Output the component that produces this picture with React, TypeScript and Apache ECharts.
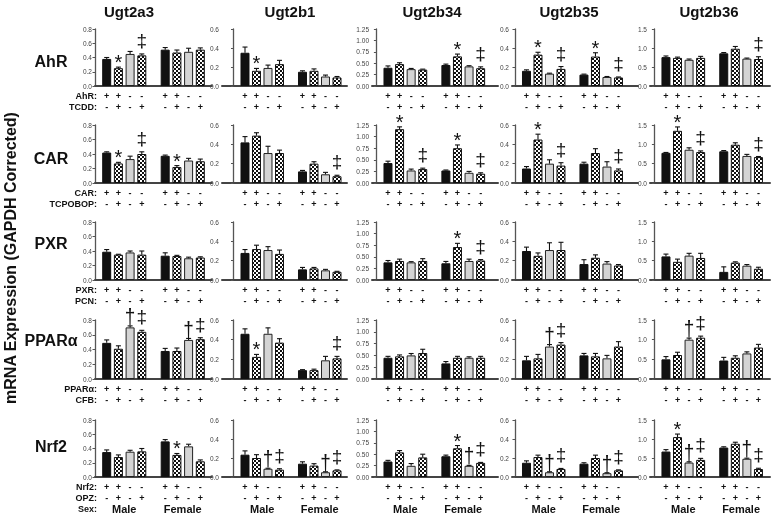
import React, { useEffect, useRef } from 'react';
import * as echarts from 'echarts';

// ---------- labels ----------
const genes = ['Ugt2a3', 'Ugt2b1', 'Ugt2b34', 'Ugt2b35', 'Ugt2b36'];
const receptors = ['AhR', 'CAR', 'PXR', 'PPARα', 'Nrf2'];
const ligands = ['TCDD', 'TCPOBOP', 'PCN', 'CFB', 'OPZ'];
const genotypeSigns = ['+', '+', '-', '-', '+', '+', '-', '-'];
const treatmentSigns = ['-', '+', '-', '+', '-', '+', '-', '+'];
const sexLabels = ['Male', 'Female'];
const barPositions = [1, 2, 3, 4, 6, 7, 8, 9];
const yAxisTitle = 'mRNA Expression (GAPDH Corrected)';

// y axis per gene column
const yMax = [0.8, 0.6, 1.25, 0.6, 1.5];
const yStep = [0.2, 0.2, 0.25, 0.2, 0.5];
const yDecimals = [1, 1, 2, 1, 1];

// ---------- data: [gene][bar] ----------
const ahrMeans = [
  [0.38, 0.25, 0.45, 0.43, 0.51, 0.47, 0.48, 0.51],
  [0.35, 0.16, 0.19, 0.23, 0.15, 0.16, 0.10, 0.09],
  [0.40, 0.48, 0.37, 0.36, 0.46, 0.65, 0.43, 0.39],
  [0.16, 0.33, 0.13, 0.18, 0.12, 0.31, 0.095, 0.09],
  [0.76, 0.74, 0.69, 0.74, 0.86, 0.98, 0.72, 0.71],
];
const ahrErrors = [
  [0.02, 0.015, 0.035, 0.02, 0.03, 0.035, 0.05, 0.025],
  [0.06, 0.025, 0.03, 0.04, 0.01, 0.02, 0.015, 0.01],
  [0.04, 0.03, 0.015, 0.01, 0.02, 0.05, 0.015, 0.03],
  [0.01, 0.025, 0.005, 0.025, 0.005, 0.04, 0.005, 0.005],
  [0.03, 0.02, 0.02, 0.04, 0.02, 0.06, 0.015, 0.06],
];
const ahrMarks = [
  ['', '*', '', '‡', '', '', '', ''],
  ['', '*', '', '', '', '', '', ''],
  ['', '', '', '', '', '*', '', '‡'],
  ['', '*', '', '‡', '', '*', '', '‡'],
  ['', '', '', '', '', '', '', '‡'],
];

const carMeans = [
  [0.42, 0.27, 0.33, 0.40, 0.375, 0.22, 0.31, 0.30],
  [0.42, 0.49, 0.31, 0.31, 0.12, 0.20, 0.09, 0.07],
  [0.43, 1.16, 0.27, 0.30, 0.27, 0.75, 0.22, 0.20],
  [0.15, 0.45, 0.20, 0.18, 0.20, 0.31, 0.17, 0.13],
  [0.78, 1.35, 0.86, 0.80, 0.82, 0.99, 0.70, 0.67],
];
const carErrors = [
  [0.01, 0.015, 0.04, 0.03, 0.01, 0.02, 0.03, 0.03],
  [0.06, 0.03, 0.07, 0.03, 0.01, 0.02, 0.02, 0.01],
  [0.04, 0.05, 0.03, 0.02, 0.01, 0.07, 0.03, 0.02],
  [0.02, 0.055, 0.04, 0.03, 0.015, 0.045, 0.05, 0.015],
  [0.01, 0.1, 0.05, 0.03, 0.02, 0.05, 0.04, 0.015],
];
const carMarks = [
  ['', '*', '', '‡', '', '*', '', ''],
  ['', '', '', '', '', '', '', '‡'],
  ['', '*', '', '‡', '', '*', '', '‡'],
  ['', '*', '', '‡', '', '', '', '‡'],
  ['', '*', '', '‡', '', '', '', '‡'],
];

const pxrMeans = [
  [0.39, 0.35, 0.38, 0.35, 0.335, 0.33, 0.30, 0.31],
  [0.28, 0.32, 0.31, 0.27, 0.11, 0.12, 0.10, 0.085],
  [0.38, 0.41, 0.38, 0.41, 0.36, 0.71, 0.41, 0.42],
  [0.30, 0.25, 0.31, 0.31, 0.165, 0.23, 0.17, 0.15],
  [0.61, 0.47, 0.63, 0.57, 0.21, 0.45, 0.37, 0.29],
];
const pxrErrors = [
  [0.03, 0.005, 0.02, 0.05, 0.04, 0.01, 0.015, 0.01],
  [0.035, 0.04, 0.035, 0.04, 0.02, 0.01, 0.01, 0.005],
  [0.04, 0.04, 0.015, 0.05, 0.04, 0.08, 0.04, 0.02],
  [0.04, 0.03, 0.075, 0.08, 0.045, 0.03, 0.02, 0.01],
  [0.06, 0.07, 0.06, 0.12, 0.13, 0.02, 0.03, 0.04],
];
const pxrMarks = [
  ['', '', '', '', '', '', '', ''],
  ['', '', '', '', '', '', '', ''],
  ['', '', '', '', '', '*', '', '‡'],
  ['', '', '', '', '', '', '', ''],
  ['', '', '', '', '', '', '', ''],
];

const pparMeans = [
  [0.49, 0.41, 0.70, 0.64, 0.38, 0.38, 0.53, 0.54],
  [0.46, 0.225, 0.46, 0.37, 0.09, 0.09, 0.19, 0.21],
  [0.45, 0.48, 0.50, 0.55, 0.33, 0.45, 0.45, 0.45],
  [0.19, 0.21, 0.33, 0.35, 0.24, 0.23, 0.21, 0.33],
  [0.50, 0.61, 1.00, 1.05, 0.47, 0.54, 0.65, 0.80],
];
const pparErrors = [
  [0.04, 0.04, 0.02, 0.02, 0.035, 0.04, 0.02, 0.02],
  [0.05, 0.025, 0.06, 0.04, 0.005, 0.01, 0.04, 0.02],
  [0.03, 0.03, 0.04, 0.08, 0.04, 0.03, 0.02, 0.03],
  [0.04, 0.04, 0.02, 0.02, 0.02, 0.03, 0.03, 0.05],
  [0.07, 0.07, 0.04, 0.04, 0.08, 0.05, 0.04, 0.08],
];
const pparMarks = [
  ['', '', '†', '‡', '', '', '†', '‡'],
  ['', '*', '', '', '', '', '', '‡'],
  ['', '', '', '', '', '', '', ''],
  ['', '', '†', '‡', '', '', '', ''],
  ['', '', '†', '‡', '', '', '', ''],
];

const nrf2Means = [
  [0.35, 0.28, 0.355, 0.36, 0.50, 0.31, 0.43, 0.22],
  [0.235, 0.20, 0.087, 0.077, 0.14, 0.12, 0.05, 0.07],
  [0.34, 0.54, 0.245, 0.43, 0.455, 0.63, 0.245, 0.31],
  [0.15, 0.21, 0.05, 0.085, 0.14, 0.20, 0.04, 0.07],
  [0.67, 1.05, 0.38, 0.45, 0.775, 0.875, 0.48, 0.21],
];
const nrf2Errors = [
  [0.03, 0.03, 0.02, 0.04, 0.025, 0.02, 0.03, 0.02],
  [0.04, 0.035, 0.005, 0.01, 0.02, 0.02, 0.005, 0.005],
  [0.025, 0.04, 0.05, 0.07, 0.025, 0.06, 0.01, 0.01],
  [0.02, 0.02, 0.005, 0.005, 0.01, 0.03, 0.005, 0.005],
  [0.05, 0.08, 0.02, 0.04, 0.02, 0.04, 0.015, 0.02],
];
const nrf2Marks = [
  ['', '', '', '', '', '*', '', ''],
  ['', '', '†', '‡', '', '', '†', '‡'],
  ['', '', '', '', '', '*', '†', '‡'],
  ['', '', '†', '‡', '', '', '†', '‡'],
  ['', '*', '†', '‡', '', '', '†', '‡'],
];

const allMeans = [ahrMeans, carMeans, pxrMeans, pparMeans, nrf2Means];
const allErrors = [ahrErrors, carErrors, pxrErrors, pparErrors, nrf2Errors];
const allMarks = [ahrMarks, carMarks, pxrMarks, pparMarks, nrf2Marks];

// ---------- layout ----------
const colAxisX = [95, 222, 372, 512, 650];
const colEndX = [212, 347, 498, 638, 770];
const colXMin = [0, -1, -0.38, -0.26, -0.38];
const colXMax = [10, 9.87, 10.5, 10.7, 10];
const colTitleX = [129, 290, 432, 569, 709];
const rowTop = [29, 125, 222, 320, 420];
const rowBottom = [86, 183, 280, 379, 477];
const rowTitleY = [61, 158, 243, 340, 446];
const FONT = 'Liberation Sans, Arial, sans-serif';
const INK = '#111111';

function makeChecker(): HTMLCanvasElement {
  const c = document.createElement('canvas');
  c.width = 4;
  c.height = 4;
  const ctx = c.getContext('2d')!;
  ctx.fillStyle = '#111';
  ctx.fillRect(0, 0, 4, 4);
  ctx.fillStyle = '#fff';
  ctx.fillRect(0, 0, 2, 2);
  ctx.fillRect(2, 2, 2, 2);
  return c;
}

function buildOption(checker: HTMLCanvasElement) {
  const grid: any[] = [];
  const xAxis: any[] = [];
  const yAxis: any[] = [];
  const series: any[] = [];
  const barStyle = (i: number) => {
    const k = i % 4;
    if (k === 0) return { color: INK, borderColor: INK, borderWidth: 1 };
    if (k === 2) return { color: '#d4d4d4', borderColor: '#222', borderWidth: 1 };
    return { color: { image: checker, repeat: 'repeat' }, borderColor: INK, borderWidth: 1 };
  };

  for (let r = 0; r < 5; r++) {
    for (let c = 0; c < 5; c++) {
      const k = r * 5 + c;
      const means = allMeans[r][c];
      const errs = allErrors[r][c];
      const marks = allMarks[r][c];
      const lastRow = r === 4;
      grid.push({
        left: colAxisX[c],
        top: rowTop[r],
        width: colEndX[c] - colAxisX[c],
        height: rowBottom[r] - rowTop[r],
        containLabel: false,
      });
      xAxis.push({
        type: 'value',
        gridIndex: k,
        min: colXMin[c],
        max: colXMax[c],
        axisLine: { show: true, onZero: false, lineStyle: { color: '#444', width: 2 } },
        axisTick: { show: false },
        axisLabel: { show: false },
        splitLine: { show: false },
      });
      yAxis.push({
        type: 'value',
        gridIndex: k,
        min: 0,
        max: yMax[c],
        interval: yStep[c],
        axisLine: { show: true, lineStyle: { color: '#555', width: 1.3 } },
        axisTick: { show: true, length: 2.5, lineStyle: { color: '#555', width: 1 } },
        axisLabel: {
          fontSize: 6.5,
          color: '#444',
          fontFamily: FONT,
          margin: 3,
          formatter: (v: number) => v.toFixed(yDecimals[c]),
        },
        splitLine: { show: false },
      });
      series.push({
        type: 'bar',
        xAxisIndex: k,
        yAxisIndex: k,
        barWidth: 9,
        z: 2,
        data: means.map((v, i) => ({ value: [barPositions[i], v], itemStyle: barStyle(i) })),
      });
      series.push({
        type: 'custom',
        xAxisIndex: k,
        yAxisIndex: k,
        z: 3,
        clip: false,
        itemStyle: { color: INK },
        data: barPositions.map((x, i) => [x, means[i] + errs[i]]),
        renderItem: (params: any, api: any) => {
          const i = params.dataIndex;
          const x = barPositions[i];
          const base = api.coord([x, means[i]]);
          const top = api.coord([x, means[i] + errs[i]]);
          const zero = api.coord([x, 0]);
          const stroke = { stroke: INK, lineWidth: 1.1 };
          const txt = (text: string, px: number, py: number, font: string, va = 'middle') => ({
            text, x: px, y: py, align: 'center', verticalAlign: va, font, fill: INK,
          });
          const children: any[] = [
            { type: 'line', shape: { x1: base[0], y1: base[1], x2: top[0], y2: top[1] }, style: stroke },
            { type: 'line', shape: { x1: top[0] - 2.5, y1: top[1], x2: top[0] + 2.5, y2: top[1] }, style: stroke },
            { type: 'text', style: txt(genotypeSigns[i], zero[0], zero[1] + 10, `bold 9px ${FONT}`) },
            { type: 'text', style: txt(treatmentSigns[i], zero[0], zero[1] + 21, `bold 9px ${FONT}`) },
          ];
          if (lastRow && (i === 1 || i === 5)) {
            const mid = api.coord([(barPositions[i] + barPositions[i + 1]) / 2, 0]);
            children.push({ type: 'text', style: txt(sexLabels[i === 1 ? 0 : 1], mid[0], zero[1] + 32, `bold 11px ${FONT}`) });
          }
          const m = marks[i];
          if (m === '*') {
            children.push({ type: 'text', style: txt('*', top[0], top[1] + 5, `20px ${FONT}`, 'bottom') });
          } else if (m === '‡') {
            children.push({
              type: 'text', x: top[0], y: top[1] - 4,
              style: txt('‡', 0, 0, `19px ${FONT}`, 'bottom'),
            });
          } else if (m === '†') {
            children.push({
              type: 'text', x: top[0], y: top[1] + 1, scaleY: 1.15,
              style: txt('†', 0, 0, `19px ${FONT}`, 'bottom'),
            });
          }
          return { type: 'group', children };
        },
      });
    }
  }

  const elements: any[] = [];
  genes.forEach((g, c) => {
    elements.push({
      type: 'text', x: colTitleX[c], y: 11,
      style: { text: g, align: 'center', verticalAlign: 'middle', font: `bold 15px ${FONT}`, fill: INK },
    });
  });
  receptors.forEach((name, r) => {
    elements.push({
      type: 'text', x: 51, y: rowTitleY[r],
      style: { text: name, align: 'center', verticalAlign: 'middle', font: `bold 16px ${FONT}`, fill: INK },
    });
    const rowLabels = [name + ':', ligands[r] + ':'];
    if (r === 4) rowLabels.push('Sex:');
    rowLabels.forEach((t, j) => {
      elements.push({
        type: 'text', x: 97, y: rowBottom[r] + 10 + j * 11,
        style: { text: t, align: 'right', verticalAlign: 'middle', font: `bold 9px ${FONT}`, fill: INK },
      });
    });
  });
  elements.push({
    type: 'text', x: 10, y: 258, rotation: Math.PI / 2,
    style: { text: yAxisTitle, align: 'center', verticalAlign: 'middle', font: `bold 16px ${FONT}`, fill: INK },
  });

  return {
    animation: false,
    backgroundColor: '#ffffff',
    grid,
    xAxis,
    yAxis,
    series,
    graphic: { elements },
  };
}

export default function App() {
  const ref = useRef<HTMLDivElement>(null);
  useEffect(() => {
    if (!ref.current) return;
    const chart = echarts.init(ref.current, undefined, { renderer: 'svg' });
    chart.setOption(buildOption(makeChecker()));
    return () => chart.dispose();
  }, []);
  return (
    <div
      ref={ref}
      style={{
        position: 'fixed',
        left: 0,
        top: 0,
        width: 776,
        height: 516,
        background: '#fff',
        filter: 'grayscale(1)',
      }}
    />
  );
}
